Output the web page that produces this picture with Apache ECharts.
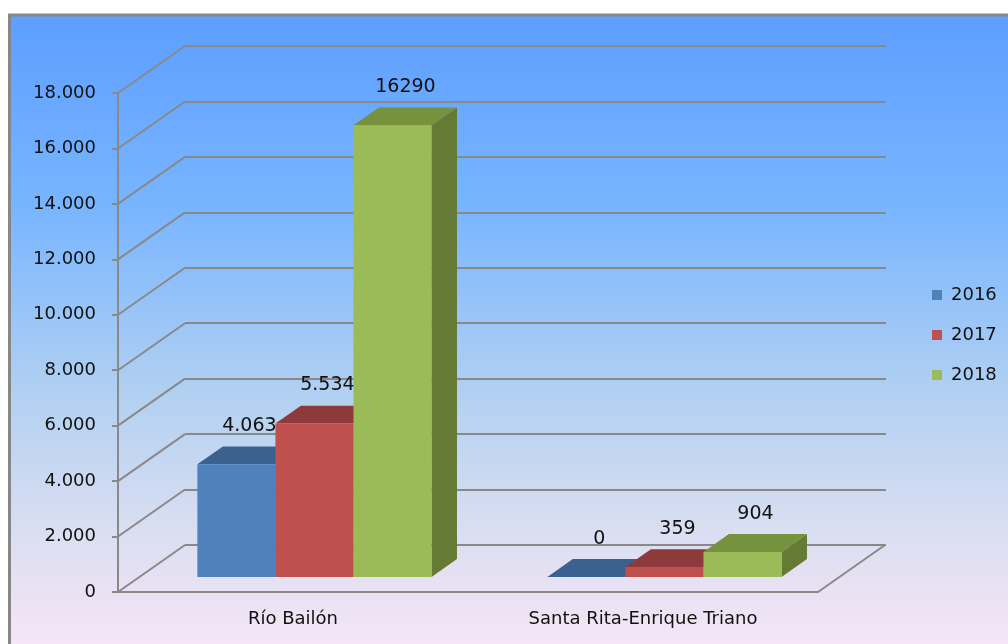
<!DOCTYPE html>
<html>
<head>
<meta charset="utf-8">
<title>Río Bailón / Santa Rita-Enrique Triano</title>
<script src="https://cdn.jsdelivr.net/npm/echarts@6/dist/echarts.min.js"></script>
<style>
  html, body { margin: 0; padding: 0; background: #fff; }
  #chart { width: 1008px; height: 644px; }
</style>
</head>
<body>
<div id="chart"></div>
<script>
const categories = ['Río Bailón', 'Santa Rita-Enrique Triano']
const years = ['2016', '2017', '2018']
const values2016 = [4063, 0]
const values2017 = [5534, 359]
const values2018 = [16290, 904]
const labels2016 = ['4.063', '0']
const labels2017 = ['5.534', '359']
const labels2018 = ['16290', '904']
const yTicks = [0, 2000, 4000, 6000, 8000, 10000, 12000, 14000, 16000, 18000]

// depth of the fake 3D box: back wall sits DX right / DY up from the front axis
const DX = 67
const DY = -47
const BAR_FRONT = 0.32   // where the bars' front face sits inside the depth
const BAR_DEPTH = 0.38
const BAR_SHARE = 0.223  // one bar's width as share of the category band
const FONT = '"DejaVu Sans", sans-serif'
const GRID_COLOR = '#898989'

const palette = [
  { front: '#4F81BD', top: '#3B6190', side: '#385D8A' },
  { front: '#C0504D', top: '#8E3A3A', side: '#8C3836' },
  { front: '#9BBB59', top: '#76923C', side: '#647A35' }
]

const fmt = v => String(v).replace(/\B(?=(\d{3})+(?!\d))/g, '.')

function barRenderer(slot, labels, colors) {
  return function (params, api) {
    const cat = api.value(0)
    const top = api.coord([cat, api.value(1)])
    const base = api.coord([cat, 0])
    const band = api.size([1, 0])[0]
    const w = band * BAR_SHARE
    const fx = DX * BAR_FRONT, fy = DY * BAR_FRONT
    const dx = DX * BAR_DEPTH, dy = DY * BAR_DEPTH
    const x0 = top[0] + (slot - 1.5) * w + fx
    const x1 = x0 + w
    const yt = top[1] + fy
    const yb = base[1] + fy
    return {
      type: 'group',
      children: [
        {
          type: 'polygon',
          shape: { points: [[x1, yb], [x1 + dx, yb + dy], [x1 + dx, yt + dy], [x1, yt]] },
          style: { fill: colors.side }
        },
        {
          type: 'polygon',
          shape: { points: [[x0, yt], [x0 + dx, yt + dy], [x1 + dx, yt + dy], [x1, yt]] },
          style: { fill: colors.top }
        },
        {
          type: 'rect',
          shape: { x: x0, y: yt, width: w, height: yb - yt },
          style: { fill: colors.front }
        },
        {
          type: 'text',
          x: (x0 + x1) / 2 + 13,
          y: yt - 38,
          style: {
            text: labels[params.dataIndex],
            fill: '#111',
            font: '19px ' + FONT,
            align: 'center',
            verticalAlign: 'middle'
          }
        }
      ]
    }
  }
}

function barSeries(slot, values, labels) {
  return {
    name: years[slot],
    type: 'custom',
    xAxisIndex: 0,
    yAxisIndex: 0,
    z: 3,
    itemStyle: { color: palette[slot].front },
    data: values.map((v, i) => [i, v]),
    renderItem: barRenderer(slot, labels, palette[slot])
  }
}

const chart = echarts.init(document.getElementById('chart'))

chart.setOption({
  animation: false,
  graphic: [{
    type: 'rect',
    z: -10,
    silent: true,
    shape: { x: 9.5, y: 15, width: 1010, height: 640 },
    style: {
      stroke: '#878787',
      lineWidth: 3,
      fill: new echarts.graphic.LinearGradient(0, 0, 0, 1, [
        { offset: 0, color: '#5D9EFF' },
        { offset: 0.3, color: '#78B5FF' },
        { offset: 0.6, color: '#B3D1F1' },
        { offset: 0.8, color: '#D9DEF1' },
        { offset: 1, color: '#F8E6F6' }
      ])
    }
  }],
  legend: {
    data: years,
    orient: 'vertical',
    left: 927,
    top: 281,
    icon: 'rect',
    itemWidth: 10,
    itemHeight: 10,
    itemGap: 22,
    textStyle: { fontFamily: FONT, fontSize: 18, color: '#111', padding: [0, 0, 0, 4] }
  },
  grid: [
    // front plane (axes + labels)
    { left: 118, top: 93, width: 700, height: 499 },
    // back wall (grid lines)
    { left: 185, top: 46, width: 701, height: 499 }
  ],
  xAxis: [
    {
      type: 'category',
      gridIndex: 0,
      data: categories,
      axisLine: { lineStyle: { color: GRID_COLOR, width: 2 } },
      axisTick: { length: 6, lineStyle: { color: GRID_COLOR, width: 2 } },
      axisLabel: { color: '#111', fontFamily: FONT, fontSize: 18, margin: 18 }
    },
    { type: 'category', gridIndex: 1, data: categories, show: false }
  ],
  yAxis: [
    {
      type: 'value',
      gridIndex: 0,
      min: 0,
      max: 18000,
      interval: 2000,
      axisLine: { show: true, lineStyle: { color: GRID_COLOR, width: 2 } },
      axisTick: { show: true, length: 6, lineStyle: { color: GRID_COLOR, width: 2 } },
      splitLine: { show: false },
      axisLabel: { color: '#111', fontFamily: FONT, fontSize: 18, margin: 22, formatter: fmt }
    },
    {
      type: 'value',
      gridIndex: 1,
      min: 0,
      max: 18000,
      interval: 2000,
      axisLine: { show: false },
      axisTick: { show: false },
      axisLabel: { show: false },
      splitLine: { lineStyle: { color: GRID_COLOR, width: 2 } }
    }
  ],
  series: [
    barSeries(0, values2016, labels2016),
    barSeries(1, values2017, labels2017),
    barSeries(2, values2018, labels2018),
    {
      // side wall / floor diagonals joining front ticks to the back wall
      type: 'custom',
      xAxisIndex: 0,
      yAxisIndex: 0,
      silent: true,
      z: 1,
      data: yTicks.map(v => [0, v]),
      renderItem(params, api) {
        const cs = params.coordSys
        const y = api.coord([0, api.value(1)])[1]
        const style = { stroke: GRID_COLOR, lineWidth: 2 }
        const children = [
          { type: 'line', shape: { x1: cs.x, y1: y, x2: cs.x + DX, y2: y + DY }, style }
        ]
        if (api.value(1) === 0) {
          const xr = cs.x + cs.width
          children.push({ type: 'line', shape: { x1: xr, y1: y, x2: xr + DX, y2: y + DY }, style })
        }
        return { type: 'group', children }
      }
    }
  ]
})

window.addEventListener('resize', () => chart.resize())
</script>
</body>
</html>
